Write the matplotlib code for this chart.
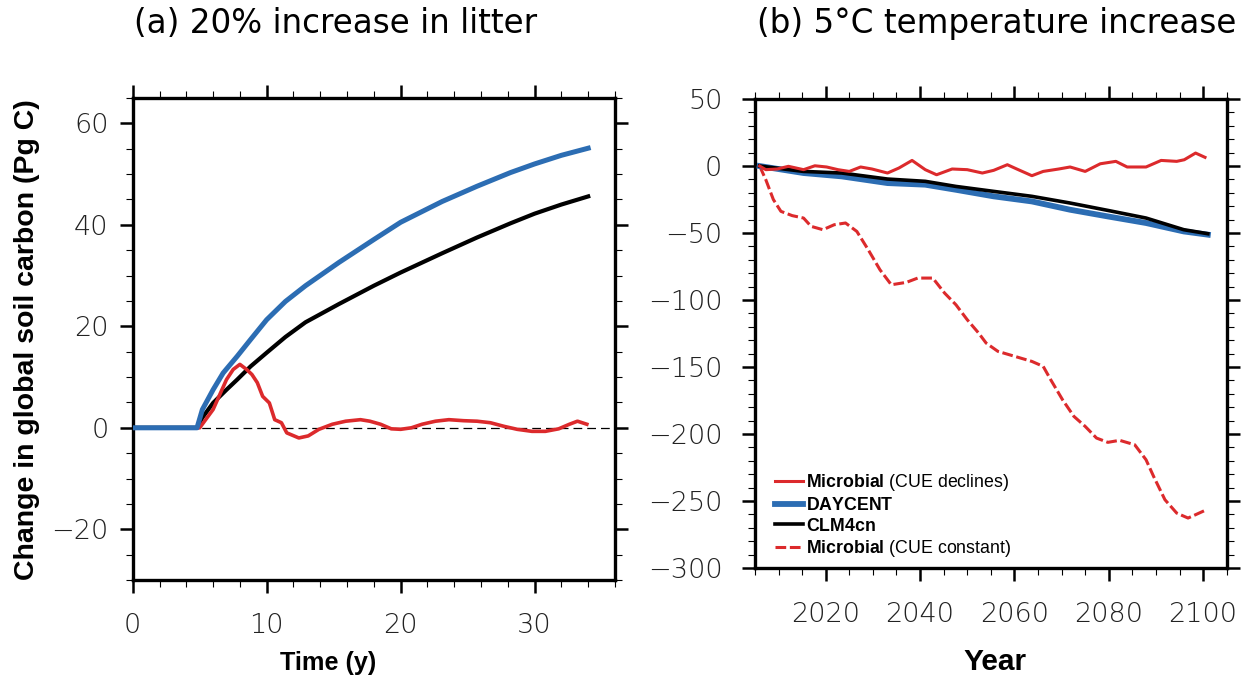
import numpy as np
import matplotlib
matplotlib.use('Agg')
import matplotlib.pyplot as plt
from matplotlib.ticker import MultipleLocator

# (a) 20% increase in litter -- time in years, change in Pg C
t_daycent = [0, 4.8, 5.2, 6.0, 6.75, 7.8, 8.8, 10, 11.4, 12.9, 15.4, 18.0, 20.0, 23.1, 25.7, 28.2, 30.0, 32.0, 34.0]
c_daycent = [0, 0, 3.6, 7.5, 10.8, 14.1, 17.4, 21.3, 24.9, 28.0, 32.6, 37.1, 40.5, 44.6, 47.6, 50.3, 52.0, 53.7, 55.1]

t_clm = [0, 4.8, 5.2, 6.0, 7.0, 7.8, 8.8, 10, 11.4, 12.9, 15.4, 18.0, 20.0, 23.1, 25.7, 28.2, 30.0, 32.0, 34.0]
c_clm = [0, 0, 2.0, 4.9, 7.5, 9.5, 12.1, 14.8, 17.9, 20.8, 24.4, 28.0, 30.6, 34.4, 37.5, 40.3, 42.2, 44.0, 45.6]

t_mic = [0, 5.0, 6.0, 7.0, 7.5, 8.0, 8.5, 8.9, 9.3, 9.7, 10.2, 10.6, 11.1, 11.5, 12.4, 13.1, 13.9, 14.9,
         15.9, 17.0, 17.7, 18.5, 19.3, 20.0, 20.8, 21.6, 22.6, 23.6, 24.7, 25.7, 26.7, 27.7, 28.7, 29.8,
         30.8, 31.8, 32.6, 33.2, 33.9]
c_mic = [0, 0, 3.6, 9.5, 11.5, 12.5, 11.5, 10.5, 8.9, 6.2, 4.9, 1.6, 1.0, -1.0, -2.0, -1.6, -0.3, 0.7,
         1.3, 1.6, 1.3, 0.7, -0.2, -0.3, 0.0, 0.7, 1.3, 1.6, 1.4, 1.3, 1.0, 0.3, -0.3, -0.7,
         -0.7, -0.2, 0.7, 1.3, 0.7]

# (b) 5 C temperature increase
yr_daycent = [2006, 2015.3, 2023.4, 2033.1, 2041.1, 2047.6, 2055.6, 2063.7, 2071.8, 2079.8, 2087.9, 2095.9, 2101]
d_daycent = [0, -5.2, -7.7, -12.7, -13.9, -17.7, -22.6, -26.4, -32.6, -37.6, -42.5, -48.8, -51.2]

yr_clm = [2006, 2015.3, 2023.4, 2033.1, 2041.1, 2047.6, 2055.6, 2063.7, 2071.8, 2079.8, 2087.9, 2095.9, 2101]
d_clm = [0, -4.0, -5.2, -9.7, -11.4, -15.2, -18.9, -22.6, -27.6, -33.1, -38.8, -47.5, -50.5]

yr_decl = [2006, 2007.3, 2009.7, 2012.1, 2015.3, 2017.7, 2020.2, 2022.6, 2025.0, 2027.4, 2029.8, 2033.1,
           2035.5, 2038.3, 2041.1, 2043.5, 2046.8, 2050.0, 2053.2, 2055.6, 2058.5, 2060.5, 2063.7, 2066.1,
           2069.4, 2071.8, 2075.0, 2078.2, 2081.5, 2083.9, 2087.9, 2091.1, 2094.4, 2096.0, 2098.4, 2100.4]
d_decl = [0, -2.7, -2.2, -0.2, -2.7, 0.2, -0.7, -2.7, -4.0, -0.7, -2.2, -5.2,
          -1.5, 4.2, -2.7, -6.5, -2.2, -2.7, -5.2, -3.2, 1.0, -2.2, -7.2, -4.0,
          -2.2, -0.7, -4.0, 1.7, 3.5, -0.7, -0.7, 4.2, 3.5, 4.7, 9.7, 6.5]

yr_const = [2006, 2007.3, 2008.9, 2010.5, 2012.9, 2015.3, 2016.9, 2019.4, 2021.8, 2024.2, 2026.6, 2029.0,
            2031.5, 2033.9, 2037.1, 2039.5, 2042.7, 2045.2, 2047.6, 2050.0, 2052.4, 2054.0, 2056.5, 2058.9,
            2061.3, 2063.7, 2066.1, 2067.7, 2070.2, 2072.6, 2075.0, 2077.4, 2079.8, 2082.3, 2085.5, 2087.9,
            2089.5, 2091.9, 2094.4, 2096.8, 2098.4, 2100.4]
d_const = [0, -10.2, -25, -33.8, -37, -38.8, -45, -47.5, -43.8, -42.5, -48.8, -62.4,
           -77.4, -88.6, -86.8, -83.6, -83.6, -94.8, -103.5, -114.7, -124.6, -132.1, -138.3, -140.8,
           -143.3, -145.8, -149.5, -159.5, -174.4, -186.8, -194.3, -203, -206.2, -204.7, -208, -219.2,
           -231.6, -249, -259, -262.7, -260.2, -257]

blue = '#2c6db3'
red = '#dc2a2c'

plt.rcParams['font.family'] = 'DejaVu Sans'
plt.rcParams['mathtext.fontset'] = 'custom'
plt.rcParams['mathtext.rm'] = 'Liberation Sans'
plt.rcParams['mathtext.bf'] = 'Liberation Sans:bold'

fig = plt.figure(figsize=(12.52, 6.78), dpi=100)
ax1 = fig.add_axes([0.106, 0.1445, 0.3852, 0.711])
ax2 = fig.add_axes([0.603, 0.1622, 0.3768, 0.6917])

def style(ax):
    for s in ax.spines.values():
        s.set_linewidth(2.4)
    ax.tick_params(which='both', direction='out', top=True, right=True)
    ax.tick_params(which='major', length=9.5, width=1.8, labelsize=19.5)
    ax.tick_params(which='minor', length=5, width=0.8)
    for lbl in ax.get_xticklabels() + ax.get_yticklabels():
        lbl.set_fontweight('light')
        lbl.set_color('#222222')

# panel a
ax1.axhline(0, color='black', lw=0.9, ls=(0, (7, 4)), zorder=1)
ax1.plot(t_mic, c_mic, color=red, lw=2.6, zorder=3)
ax1.plot(t_clm, c_clm, color='black', lw=3.0, zorder=2)
ax1.plot(t_daycent, c_daycent, color=blue, lw=3.6, zorder=4)
ax1.set_xlim(0, 36)
ax1.set_ylim(-30, 65)
ax1.xaxis.set_major_locator(MultipleLocator(10))
ax1.xaxis.set_minor_locator(MultipleLocator(2))
ax1.set_yticks([-20, 0, 20, 40, 60])
ax1.yaxis.set_minor_locator(MultipleLocator(5))
style(ax1)
ax1.tick_params(axis='y', pad=8)
ax1.tick_params(axis='x', pad=14)

# panel b
l4, = ax2.plot(yr_const, d_const, color=red, lw=2.2, dashes=(3.5, 1.2), zorder=2)
l2, = ax2.plot(yr_daycent, d_daycent, color=blue, lw=4.2, zorder=3)
l3, = ax2.plot(yr_clm, d_clm, color='black', lw=2.6, zorder=4)
l1, = ax2.plot(yr_decl, d_decl, color=red, lw=2.2, zorder=5)
ax2.set_xlim(2005, 2105)
ax2.set_ylim(-300, 50)
ax2.set_xticks([2020, 2040, 2060, 2080, 2100])
ax2.xaxis.set_minor_locator(MultipleLocator(5))
ax2.yaxis.set_major_locator(MultipleLocator(50))
ax2.yaxis.set_minor_locator(MultipleLocator(10))
style(ax2)
ax2.tick_params(axis='y', pad=14)
ax2.tick_params(axis='x', pad=15)

leg = ax2.legend([l1, l2, l3, l4],
                 [r'$\bf{Microbial}$ (CUE declines)', r'$\bf{DAYCENT}$', r'$\bf{CLM4cn}$',
                  r'$\bf{Microbial}$ (CUE constant)'],
                 loc='lower left', bbox_to_anchor=(0.042, 0.019), frameon=False,
                 borderpad=0, borderaxespad=0, handlelength=1.6, handletextpad=0.15,
                 labelspacing=0.2, prop={'family': 'Liberation Sans', 'size': 12.8})

fig.text(336 / 1252, 0.966, '(a) 20% increase in litter', ha='center', va='center', fontsize=23.5)
fig.text(997 / 1252, 0.966, '(b) 5\u00b0C temperature increase', ha='center', va='center', fontsize=23.5)
fig.text(27.5 / 1252, 0.4985, 'Change in global soil carbon (Pg C)', rotation=90, ha='center', va='center',
         family='Liberation Sans', fontweight='bold', fontsize=20.5)
fig.text(328 / 1252, 1 - 670 / 678, 'Time (y)', ha='center', va='baseline',
         family='Liberation Sans', fontweight='bold', fontsize=18.2)
fig.text(995 / 1252, 1 - 670 / 678, 'Year', ha='center', va='baseline',
         family='Liberation Sans', fontweight='bold', fontsize=21.5)

fig.savefig('out.png', dpi=100)
